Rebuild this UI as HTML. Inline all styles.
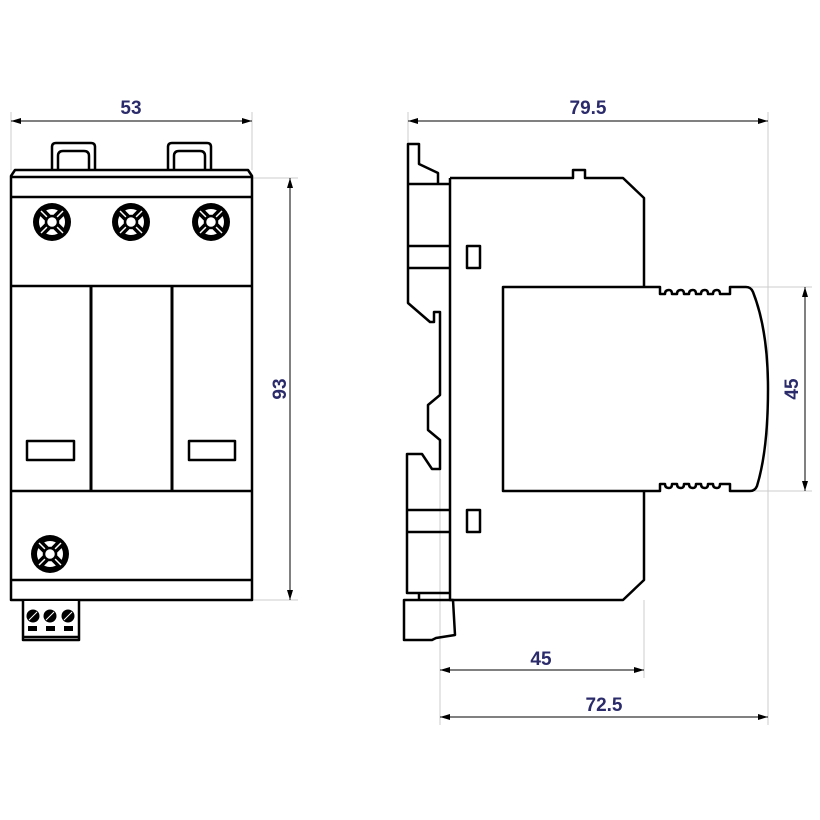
<!DOCTYPE html>
<html><head><style>body{margin:0;background:#fff}svg{display:block}text{font-family:"Liberation Sans",sans-serif;font-weight:bold;font-size:19px;fill:#2b2b6b}</style></head>
<body>
<svg width="820" height="820" viewBox="0 0 820 820" xmlns="http://www.w3.org/2000/svg">
<defs>
<marker id="a" viewBox="0 0 10 6" refX="10" refY="3" markerWidth="10" markerHeight="6" orient="auto-start-reverse" markerUnits="userSpaceOnUse"><path d="M0,0L10,3L0,6z" fill="#000"/></marker>
<g id="scr">
<circle r="19" fill="#000"/><circle r="13" fill="#fff"/>
<g stroke="#000" stroke-width="8"><line x1="-12" y1="-12" x2="12" y2="12"/><line x1="-12" y1="12" x2="12" y2="-12"/></g>
<g stroke="#fff" stroke-width="1.5"><line x1="-11" y1="-11" x2="11" y2="11"/><line x1="-11" y1="11" x2="11" y2="-11"/></g>
<circle r="6" fill="#fff" stroke="#000" stroke-width="2.5"/>
</g>
</defs>
<g stroke="#ccc" stroke-width="1" fill="none">
<line x1="11" y1="112" x2="11" y2="170"/><line x1="252" y1="112" x2="252" y2="170"/>
<line x1="252" y1="178" x2="298" y2="178"/><line x1="252" y1="600" x2="298" y2="600"/>
<line x1="408" y1="112" x2="408" y2="144"/><line x1="768" y1="112" x2="768" y2="725"/>
<line x1="750" y1="287" x2="812" y2="287"/><line x1="755" y1="491" x2="812" y2="491"/>
<line x1="440" y1="470" x2="440" y2="725"/><line x1="644" y1="600" x2="644" y2="678"/>
</g>
<g stroke="#000" stroke-width="1" fill="none">
<line x1="11" y1="121" x2="252" y2="121" marker-start="url(#a)" marker-end="url(#a)"/>
<line x1="290" y1="178" x2="290" y2="600" marker-start="url(#a)" marker-end="url(#a)"/>
<line x1="408" y1="121" x2="768" y2="121" marker-start="url(#a)" marker-end="url(#a)"/>
<line x1="805" y1="287" x2="805" y2="491" marker-start="url(#a)" marker-end="url(#a)"/>
<line x1="440" y1="670" x2="644" y2="670" marker-start="url(#a)" marker-end="url(#a)"/>
<line x1="440" y1="717" x2="768" y2="717" marker-start="url(#a)" marker-end="url(#a)"/>
</g>
<text x="131" y="114" text-anchor="middle">53</text>
<text x="588" y="114" text-anchor="middle">79.5</text>
<text x="541" y="665" text-anchor="middle">45</text>
<text x="604" y="711" text-anchor="middle">72.5</text>
<text transform="translate(286,389) rotate(-90)" text-anchor="middle">93</text>
<text transform="translate(798,389) rotate(-90)" text-anchor="middle">45</text>
<g stroke="#000" stroke-width="2.5" fill="#fff" stroke-linejoin="round">
<path d="M52,170V147Q52,143 56,143H91Q95,143 95,147V170"/>
<path d="M58,170V156Q58,151 63,151H84Q89,151 89,156V170"/>
<path d="M168,170V147Q168,143 172,143H207Q211,143 211,147V170"/>
<path d="M174,170V156Q174,151 179,151H200Q205,151 205,156V170"/>
<path d="M11,176L15,170H248L252,176V600H11Z"/>
<line x1="11" y1="177" x2="252" y2="177"/>
<line x1="11" y1="197" x2="252" y2="197"/>
<line x1="11" y1="286" x2="252" y2="286"/>
<line x1="11" y1="491" x2="252" y2="491"/>
<line x1="11" y1="580" x2="252" y2="580"/>
<line x1="91" y1="286" x2="91" y2="491" stroke-width="3"/>
<line x1="172" y1="286" x2="172" y2="491" stroke-width="3"/>
<rect x="27" y="441" width="47" height="19"/>
<rect x="189" y="441" width="46" height="19"/>
<path d="M23,601V640H79V601"/>
<line x1="23" y1="637" x2="79" y2="637"/>
</g>
<use href="#scr" x="52" y="222"/><use href="#scr" x="131" y="222"/><use href="#scr" x="211" y="222"/>
<use href="#scr" x="50" y="554"/>
<g fill="#000">
<circle cx="33" cy="616" r="6.5"/><circle cx="50" cy="616" r="6.5"/><circle cx="68" cy="616" r="6.5"/>
<rect x="28" y="626" width="9" height="5"/><rect x="46" y="626" width="9" height="5"/><rect x="64" y="626" width="9" height="5"/>
</g>
<g stroke="#fff" stroke-width="1"><line x1="29" y1="620" x2="37" y2="612"/><line x1="46" y1="620" x2="54" y2="612"/><line x1="64" y1="620" x2="72" y2="612"/></g>
<g stroke="#000" stroke-width="2.5" fill="none" stroke-linejoin="round">
<path d="M408,184V144H419V164L438,173V184"/>
<path d="M408,184H450"/>
<path d="M408,184V303L430,322H434V312H440V395L428,405V430L440,440V469H432L422,454H407V593H450"/>
<line x1="408" y1="246" x2="450" y2="246"/><line x1="408" y1="268" x2="450" y2="268"/>
<line x1="407" y1="510" x2="450" y2="510"/><line x1="407" y1="532" x2="450" y2="532"/>
<line x1="419" y1="593" x2="419" y2="600"/>
<path d="M404,600H453L455,635L436,638L432,640H404Z"/>
<path d="M450,178V600H623L644,580V491"/>
<path d="M450,178H573V170H585V178H623L644,198V287"/>
<rect x="467" y="246" width="13" height="22"/>
<rect x="467" y="510" width="13" height="22"/>
<path d="M503,491V287H660V294H665Q665,290 669,290Q672,290 672,294H677Q677,290 681,290Q684,290 684,294H689Q689,290 693,290Q696,290 696,294H701Q701,290 705,290Q708,290 708,294H713Q713,290 717,290Q720,290 720,294H730V287H746Q751,287 753,292Q768,330 768,389Q768,450 757,486Q755,491 750,491H730V484H720Q720,488 717,488Q713,488 713,484H708Q708,488 705,488Q701,488 701,484H696Q696,488 693,488Q689,488 689,484H684Q684,488 681,488Q677,488 677,484H672Q672,488 669,488Q665,488 665,484H660V491Z"/>
</g>
</svg>
</body></html>
